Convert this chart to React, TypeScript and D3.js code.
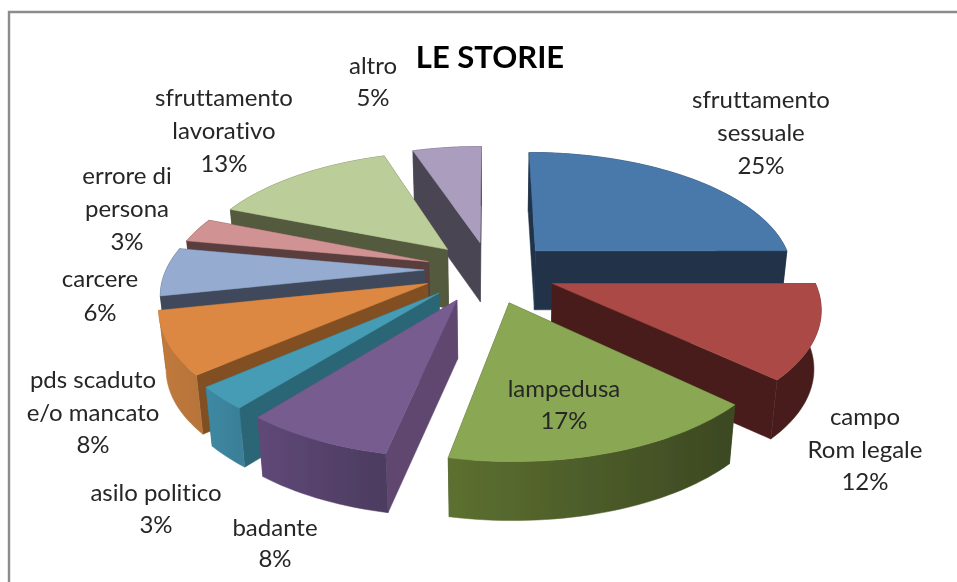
import React from "react";
import * as d3 from "d3";

const categories = ["sfruttamento sessuale","campo Rom legale","lampedusa","badante","asilo politico","pds scaduto e/o mancato","carcere","errore di persona","sfruttamento lavorativo","altro"];
const values = [25,12,17,8,3,8,6,3,13,5];
const topColors = ["#4a78ab","#ab4a47","#8aa852","#775b90","#459cb4","#dc8842","#95abd0","#d09292","#bbcd98","#ab9dbd"];
const wallColors = ["#20324a","#4a1f1d","#3e4a22","#5e4770","#2c6676","#815024","#3f4a5b","#5a3e3e","#525a3e","#4a4553"];
const rimFrom = ["#20324a","#4a1f1d","#5c7030","#5f4878","#3f89a3","#c07a3c","#3f4a5b","#5a3e3e","#525a3e","#4a4553"];
const rimTo = ["#20324a","#4a1f1d","#3c4822","#4c3c5f","#3a7f98","#b8743a","#3f4a5b","#5a3e3e","#525a3e","#4a4553"];
const labelLines = [["sfruttamento","sessuale","25%"],["campo","Rom legale","12%"],["lampedusa","17%"],["badante","8%"],["asilo politico","3%"],["pds scaduto","e/o mancato","8%"],["carcere","6%"],["errore di","persona","3%"],["sfruttamento","lavorativo","13%"],["altro","5%"]];

// layout of the label blocks: centre x, first baseline
const labelPlace = [[761,108],[865,425],[564,397],[275,536],[156,501],[93,388],[100,287],[127,184],[224,106],[373,74]];
const lineSteps = [33,32.5,32,31,32,32.5,34,33,33,32];

const W = 957, H = 582;
const CX = 490, CY = 272, RX = 259, RY = 121, PERSP = 0.165, EXPLODE = 0.255, DEPTH = 59, SHRINK = 0.022;
const rad = Math.PI/180;

const xScale = d3.scaleLinear().domain([-1,1]).range([CX-RX,CX+RX]);
const yScale = d3.scaleLinear().domain([-1,1]).range([CY-RY,CY+RY]);
type P = [number,number];
const project = (X:number,Y:number,bottom:boolean):P => {
  const s = 1/(1-PERSP*Y);
  const px = xScale(X*s), py = yScale(Y*s);
  return bottom ? [CX+(px-CX)*(1-SHRINK), py+DEPTH] : [px,py];
};
// the picture's 3-D view pulls the rim on the left towards the viewer
const viewAngle = (t:number) => {
  const a = 130*rad, b = 365*rad;
  if (t<=a || t>=b) return t;
  return t - 5*rad*Math.sin(Math.PI*(t-a)/(b-a))**2;
};
const path = d3.line<P>().x(d=>d[0]).y(d=>d[1]);
const arcs = d3.pie<number>().sort(null).startAngle(0).endAngle(2*Math.PI)(values);

const slices = arcs.map((a,i)=>{
  const mid = (a.startAngle+a.endAngle)/2;
  const ox = EXPLODE*Math.sin(mid), oy = -EXPLODE*Math.cos(mid);
  const n = Math.max(4,Math.round((a.endAngle-a.startAngle)/0.03));
  const ang = d3.range(n+1).map(k=>viewAngle(a.startAngle+(a.endAngle-a.startAngle)*k/n));
  const rim = (b:boolean)=>ang.map(t=>project(ox+Math.sin(t),oy-Math.cos(t),b));
  const apexT = project(ox,oy,false), apexB = project(ox,oy,true);
  const rT = rim(false), rB = rim(true);
  const mean = (ps:P[])=>d3.mean(ps,p=>p[1]) as number;
  const walls = [
    {d:[apexT,rT[0],rB[0],apexB], key:mean([apexT,rT[0]]), rim:false},
    {d:[apexT,rT[n],rB[n],apexB], key:mean([apexT,rT[n]]), rim:false},
    {d:[...rT,...rB.slice().reverse()], key:mean(rT), rim:true},
  ].sort((p,q)=>p.key-q.key);
  const xs = rT.map(p=>p[0]);
  return {i,walls,top:[apexT,...rT],order:-Math.cos(mid),x0:d3.min(xs) as number,x1:d3.max(xs) as number};
}).sort((a,b)=>a.order-b.order);

export default function App(){
  return (
    <svg width={W} height={H} viewBox={`0 0 ${W} ${H}`} style={{position:"absolute",left:0,top:0,background:"#fff"}}>
      <defs>
        {slices.map(s=>(
          <linearGradient key={s.i} id={`rim${s.i}`} gradientUnits="userSpaceOnUse" x1={s.x0} x2={s.x1} y1={0} y2={0}>
            <stop offset="0" stopColor={rimFrom[s.i]}/>
            <stop offset="1" stopColor={rimTo[s.i]}/>
          </linearGradient>
        ))}
        <filter id="soft" x="-2%" y="-2%" width="104%" height="104%" filterUnits="objectBoundingBox">
          <feGaussianBlur stdDeviation="0.45"/>
        </filter>
      </defs>
      <path d="M9,582 V12 H957" fill="none" stroke="#8c8c8c" strokeWidth={2.4}/>
      <g filter="url(#soft)">
      {slices.map(s=>(
        <g key={s.i} data-name={categories[s.i]}>
          {s.walls.map((w,j)=>(
            <path key={j} d={path(w.d as P[])+"Z"} fill={w.rim?`url(#rim${s.i})`:wallColors[s.i]} stroke={w.rim?`url(#rim${s.i})`:wallColors[s.i]} strokeWidth={0.5}/>
          ))}
          <path d={path(s.top as P[])+"Z"} fill={topColors[s.i]} stroke={topColors[s.i]} strokeWidth={0.5}/>
        </g>
      ))}
      <text x={490} y={68} textAnchor="middle" fontFamily="Lato, 'Open Sans', sans-serif" fontWeight={700} fontSize={31} fill="#000">LE STORIE</text>
      {labelLines.map((lines,i)=>(
        <text key={i} fontFamily="Lato, 'Open Sans', sans-serif" fontSize={24} fill="#262626" textAnchor="middle" style={{fontVariantLigatures:"none"}}>
          {lines.map((l,j)=>(
            <tspan key={j} x={labelPlace[i][0]} y={labelPlace[i][1]+j*lineSteps[i]}>{l}</tspan>
          ))}
        </text>
      ))}
      </g>
    </svg>
  );
}
